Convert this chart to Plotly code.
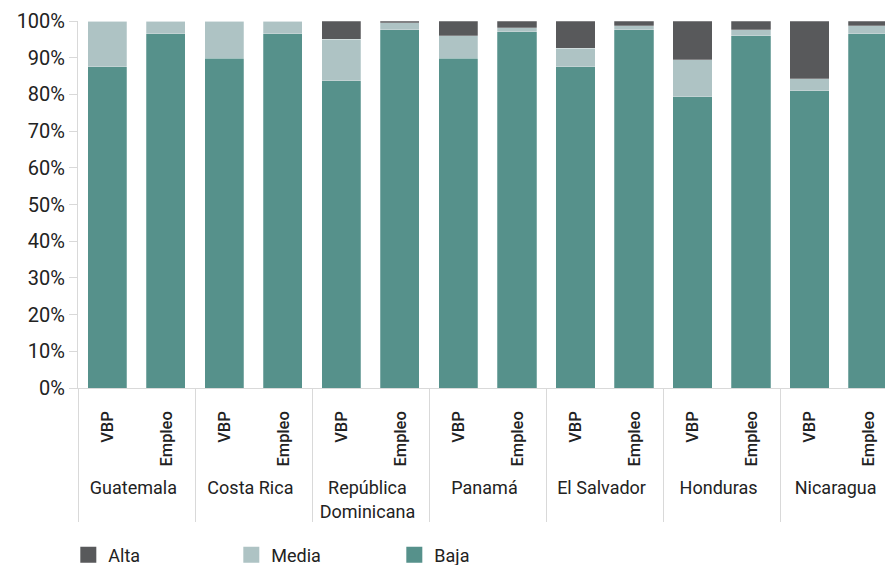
import plotly.graph_objects as go

countries = ["Guatemala", "Costa Rica", "República<br>Dominicana", "Panamá",
             "El Salvador", "Honduras", "Nicaragua"]
measures = ["VBP", "Empleo"]

baja  = [87.5, 96.5, 89.8, 96.5, 83.7, 97.6, 89.8, 97.1, 87.5, 97.6, 79.4, 96.0, 81.0, 96.5]
media = [12.5,  3.5, 10.2,  3.5, 11.3,  1.9,  6.2,  1.1,  5.1,  1.1, 10.0,  1.6,  3.3,  2.2]
alta  = [ 0.0,  0.0,  0.0,  0.0,  5.0,  0.5,  4.0,  1.8,  7.4,  1.3, 10.6,  2.4, 15.7,  1.3]

inner_fmt = "<span style='font-size:16.5px;font-weight:500'>\u00a0\u00a0{}</span>"
outer = [c for c in countries for _ in measures]
inner = [inner_fmt.format(m) for _ in countries for m in measures]
x = [outer, inner]

colors = {"Baja": "#56918B", "Media": "#AEC3C4", "Alta": "#58595B"}

fig = go.Figure()
for name, vals in [("Baja", baja), ("Media", media), ("Alta", alta)]:
    fig.add_trace(go.Bar(
        x=x, y=vals, name=name, showlegend=False,
        marker=dict(color=colors[name], line=dict(color="rgba(255,255,255,0.5)", width=0.5)),
    ))
# legend entries with larger square symbols
for name in ["Alta", "Media", "Baja"]:
    fig.add_trace(go.Scatter(
        x=[[None], [None]], y=[None], mode="markers", name=name,
        marker=dict(symbol="square", size=16, color=colors[name]),
    ))

font_main = "Roboto, sans-serif"
fig.update_layout(
    width=885, height=565,
    barmode="stack", bargap=0.33,
    plot_bgcolor="white", paper_bgcolor="white",
    margin=dict(l=78, r=0, t=21, b=177, autoexpand=False),
    font=dict(family=font_main, size=18, color="#222222"),
    legend=dict(orientation="h", x=-0.012, xanchor="left", y=-0.455, yanchor="middle",
                traceorder="normal", entrywidth=118, itemwidth=30, font=dict(size=18)),
    showlegend=True,
)
fig.update_yaxes(range=[0, 100], dtick=10, ticksuffix="%", showgrid=False,
                 showline=True, linecolor="#d9d9d9", ticks="outside", ticklen=8,
                 tickcolor="#d9d9d9", zeroline=False, tickfont=dict(size=20),
                 automargin=False)
fig.update_xaxes(type="multicategory", range=[-0.5, 13.29], showline=True,
                 linecolor="#d9d9d9", showdividers=True, dividercolor="#d9d9d9",
                 dividerwidth=1, tickangle=-90, tickfont=dict(size=18),
                 ticklabelstandoff=15, automargin=False)

fig.write_html("out.html")
